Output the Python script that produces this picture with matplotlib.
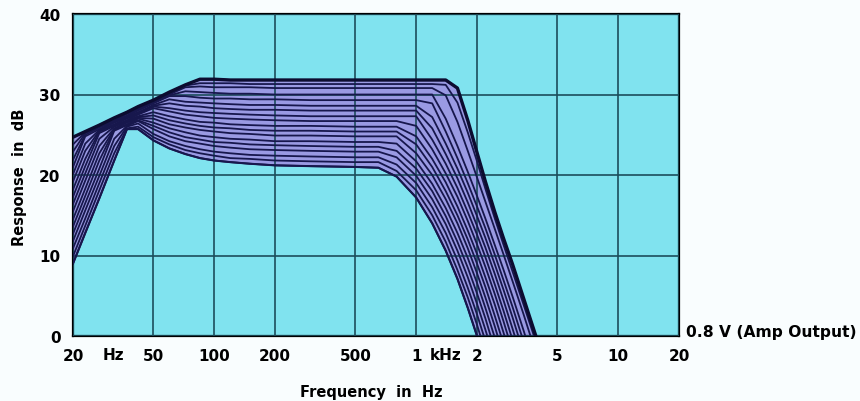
import numpy as np
import matplotlib
matplotlib.use("Agg")
import matplotlib.pyplot as plt
from matplotlib.ticker import FixedLocator, NullLocator

plt.rcParams["font.family"] = ["DejaVu Sans"]
plt.rcParams["font.weight"] = "bold"

# Frequence commune (Hz) pour toutes les courbes
freq_hz = [20, 23, 27, 32, 37, 42, 50, 60, 72, 85, 100, 120, 150, 200, 300,
           500, 650, 800, 1000, 1200, 1400, 1600, 1800, 2000, 2200, 2450, 2700, 3000, 3400, 3900, 4400]

# Reponse en dB, de la courbe la plus basse a la plus haute
curve_0 = [9.0, 12.8, 17.1, 21.8, 25.7, 25.7, 24.3, 23.3, 22.6, 22.1, 21.8, 21.6, 21.4, 21.2, 21.1,
           21.0, 20.9, 19.8, 17.2, 14.0, 10.6, 7.1, 3.5, 0.0, -3.5, -10, -10, -10, -10, -10, -10]
curve_1 = [9.9, 13.7, 18.1, 22.7, 25.8, 26.0, 24.7, 23.8, 23.1, 22.7, 22.4, 22.1, 22.0, 21.8, 21.7,
           21.6, 21.6, 20.5, 18.1, 15.0, 11.7, 8.2, 4.8, 1.4, -2.0, -10, -10, -10, -10, -10, -10]
curve_2 = [10.9, 14.6, 19.0, 23.6, 26.0, 26.4, 25.1, 24.2, 23.6, 23.2, 22.9, 22.7, 22.5, 22.4, 22.3,
           22.2, 22.2, 21.3, 19.0, 16.0, 12.8, 9.4, 6.0, 2.7, -0.6, -4.6, -10, -10, -10, -10, -10]
curve_3 = [11.8, 15.6, 19.9, 24.5, 26.1, 26.7, 25.7, 24.8, 24.2, 23.9, 23.6, 23.4, 23.2, 23.1, 23.0,
           22.9, 22.9, 22.2, 19.9, 17.0, 13.9, 10.6, 7.3, 4.0, 0.8, -3.1, -10, -10, -10, -10, -10]
curve_4 = [12.7, 16.5, 20.8, 25.5, 26.2, 26.8, 26.1, 25.3, 24.7, 24.4, 24.1, 24.0, 23.8, 23.7, 23.6,
           23.5, 23.5, 23.0, 20.8, 18.0, 14.9, 11.7, 8.5, 5.3, 2.2, -1.7, -10, -10, -10, -10, -10]
curve_5 = [13.6, 17.4, 21.8, 25.6, 26.3, 27.0, 26.5, 25.8, 25.3, 24.9, 24.7, 24.5, 24.4, 24.2, 24.2,
           24.1, 24.1, 23.9, 21.7, 18.9, 15.9, 12.8, 9.7, 6.6, 3.5, -0.2, -3.9, -10, -10, -10, -10]
curve_6 = [14.5, 18.3, 22.7, 25.7, 26.5, 27.1, 27.0, 26.3, 25.9, 25.6, 25.4, 25.2, 25.1, 24.9, 24.9,
           24.8, 24.8, 24.8, 22.7, 20.0, 17.0, 14.0, 10.9, 7.8, 4.8, 1.2, -2.4, -10, -10, -10, -10]
curve_7 = [15.5, 19.3, 23.6, 25.8, 26.6, 27.2, 27.4, 26.8, 26.4, 26.1, 25.9, 25.8, 25.6, 25.5, 25.5,
           25.4, 25.4, 25.4, 23.8, 21.0, 18.0, 15.0, 12.0, 9.0, 6.1, 2.5, -0.9, -4.9, -10, -10, -10]
curve_8 = [16.4, 20.2, 24.5, 26.0, 26.7, 27.3, 27.8, 27.3, 26.9, 26.6, 26.5, 26.3, 26.2, 26.1, 26.1,
           26.0, 26.0, 26.0, 24.8, 22.0, 19.1, 16.1, 13.1, 10.2, 7.3, 3.9, 0.5, -3.4, -10, -10, -10]
curve_9 = [17.3, 21.1, 25.2, 26.1, 26.8, 27.5, 28.3, 27.9, 27.5, 27.3, 27.1, 27.0, 26.9, 26.8, 26.7,
           26.7, 26.7, 26.7, 26.1, 23.2, 20.2, 17.3, 14.3, 11.4, 8.6, 5.2, 1.9, -1.9, -10, -10, -10]
curve_10 = [18.2, 22.0, 25.4, 26.2, 27.0, 27.6, 28.5, 28.3, 28.0, 27.8, 27.7, 27.6, 27.5, 27.4, 27.3,
            27.3, 27.3, 27.3, 27.3, 24.4, 21.4, 18.4, 15.4, 12.6, 9.8, 6.4, 3.2, -0.5, -5.1, -10, -10]
curve_11 = [19.2, 23.0, 25.5, 26.3, 27.1, 27.7, 28.6, 28.9, 28.6, 28.5, 28.3, 28.2, 28.1, 28.1, 28.0,
            28.0, 28.0, 28.0, 28.0, 25.8, 22.6, 19.6, 16.6, 13.7, 11.0, 7.7, 4.5, 0.9, -3.6, -10, -10]
curve_12 = [20.1, 23.9, 25.6, 26.5, 27.2, 27.8, 28.7, 29.4, 29.1, 29.0, 28.9, 28.8, 28.7, 28.7, 28.6,
            28.6, 28.6, 28.6, 28.6, 27.2, 23.9, 20.8, 17.8, 14.9, 12.2, 8.9, 5.8, 2.3, -2.1, -10, -10]
curve_13 = [21.0, 24.8, 25.7, 26.6, 27.3, 28.0, 28.9, 29.8, 29.8, 29.6, 29.5, 29.5, 29.4, 29.4, 29.3,
            29.3, 29.3, 29.3, 29.3, 28.9, 25.4, 22.1, 19.0, 16.1, 13.4, 10.1, 7.0, 3.6, -0.7, -5.6, -10]
curve_14 = [21.9, 25.0, 25.9, 26.7, 27.4, 28.1, 29.0, 29.9, 30.4, 30.3, 30.2, 30.1, 30.1, 30.0, 30.0,
            30.0, 30.0, 30.0, 30.0, 30.0, 27.0, 23.6, 20.4, 17.4, 14.6, 11.3, 8.3, 4.9, 0.7, -4.1, -10]
curve_15 = [22.9, 25.2, 26.0, 26.8, 27.6, 28.2, 29.1, 30.0, 30.9, 31.0, 30.9, 30.9, 30.9, 30.8, 30.8,
            30.8, 30.8, 30.8, 30.8, 30.8, 29.9, 26.6, 23.0, 19.7, 16.7, 13.3, 10.2, 6.8, 2.7, -2.0, -10]
curve_16 = [23.8, 25.3, 26.1, 27.0, 27.7, 28.3, 29.2, 30.1, 31.1, 31.4, 31.4, 31.4, 31.3, 31.3, 31.3,
            31.3, 31.3, 31.3, 31.3, 31.3, 31.2, 29.0, 25.3, 21.7, 18.3, 14.6, 11.4, 8.0, 3.9, -0.6, -10]
curve_17 = [24.7, 25.4, 26.2, 27.1, 27.8, 28.5, 29.3, 30.3, 31.2, 31.9, 31.9, 31.8, 31.8, 31.8, 31.8,
            31.8, 31.8, 31.8, 31.8, 31.8, 31.8, 30.8, 26.8, 22.8, 19.2, 15.4, 12.2, 8.9, 4.7, 0.1, -3.5]

curves = [curve_0, curve_1, curve_2, curve_3, curve_4, curve_5, curve_6, curve_7, curve_8,
          curve_9, curve_10, curve_11, curve_12, curve_13, curve_14, curve_15, curve_16, curve_17]

x_ticks = [20, 50, 100, 200, 500, 1000, 2000, 5000, 10000, 20000]
x_labels = ["20", "50", "100", "200", "500", "1", "2", "5", "10", "20"]
y_ticks = [0, 10, 20, 30, 40]

# Figure
fig = plt.figure(figsize=(8.6, 4.02), dpi=100, facecolor="#f9fdfe")
ax = fig.add_axes([73 / 860, 65 / 402, 606 / 860, 322 / 402])
ax.set_facecolor("#80e3ef")
ax.set_xscale("log")
ax.set_xlim(20, 20000)
ax.set_ylim(0, 40)

# zone remplie entre les courbes
arr = np.array(curves)
ax.fill_between(freq_hz, arr.min(axis=0), arr.max(axis=0), color="#9a9ae3", lw=0, zorder=2)

for c in curves:
    ax.plot(freq_hz, c, color="#17174d", lw=1.3, zorder=3)
ax.plot(freq_hz, curve_17, color="#0c0c30", lw=2.4, zorder=4)
ax.plot(freq_hz, curve_0, color="#17174d", lw=1.5, zorder=4)

# axes et grille
ax.xaxis.set_major_locator(FixedLocator(x_ticks))
ax.xaxis.set_minor_locator(NullLocator())
ax.set_xticklabels(x_labels)
ax.set_yticks(y_ticks)
ax.set_axisbelow(False)
ax.grid(True, color="#1d4d5c", lw=1.2)
ax.tick_params(length=0, pad=9, labelsize=11)
for s in ax.spines.values():
    s.set_linewidth(1.6)
    s.set_color("black")

lab_y = -0.056
ax.annotate("Hz", xy=(31.6, lab_y), xycoords=("data", "axes fraction"),
            ha="center", va="center", fontsize=11)
ax.annotate("kHz", xy=(1400, lab_y), xycoords=("data", "axes fraction"),
            ha="center", va="center", fontsize=11)

fig.text(371 / 860, 1 - 393 / 402, "Frequency  in  Hz", ha="center", va="center", fontsize=10.5)
fig.text(20 / 860, 1 - 177 / 402, "Response  in  dB", ha="center", va="center",
         rotation=90, fontsize=10.5)
fig.text(686 / 860, 1 - 333 / 402, "0.8 V (Amp Output)", ha="left", va="center", fontsize=11.2)

fig.savefig("out.png", dpi=100, facecolor=fig.get_facecolor())
